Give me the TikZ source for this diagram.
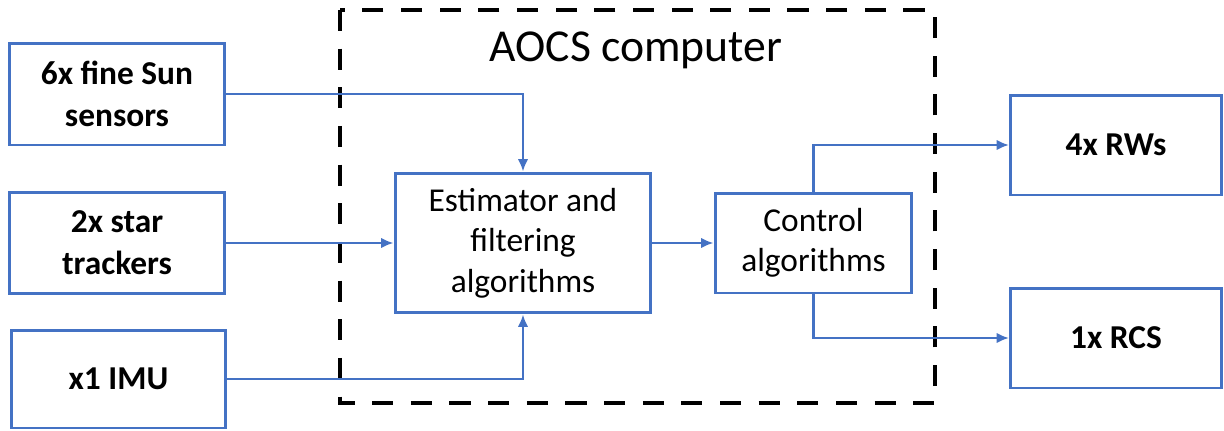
\documentclass[tikz,border=0pt]{standalone}
\usepackage{fontspec}
\setmainfont{Carlito}
\usetikzlibrary{arrows.meta}
\definecolor{lineblue}{HTML}{4472C4}
\begin{document}
\begin{tikzpicture}[x=.02cm, y=-.02cm,
  unit/.style={draw=lineblue, line width=1.7pt, align=center, inner sep=0pt,
    font=\fontsize{19}{24}\selectfont\bfseries},
  algo/.style={draw=lineblue, line width=1.7pt, align=center, inner sep=0pt,
    font=\fontsize{19}{23}\selectfont},
  link/.style={draw=lineblue, line width=1.4pt, -{Latex[length=7pt,width=6pt]}}]
\useasboundingbox (0,0) rectangle (1224,430);
\draw[line width=2.3pt, dash pattern=on 12pt off 10pt] (340,10) rectangle (935,403);
\node[font=\fontsize{26}{30}\selectfont] (title) at (636,50){AOCS computer};
\node[unit, minimum width=4.32cm, minimum height=2.04cm] (sun) at (117,94){6x fine Sun\\sensors};
\node[unit, minimum width=4.32cm, minimum height=2.02cm] (star) at (117,243){2x star\\trackers};
\node[unit, minimum width=4.3cm, minimum height=1.96cm] (imu) at (118.5,379){x1 IMU};
\node[algo, minimum width=5.12cm, minimum height=2.8cm] (est) at (523,243){Estimator and\\filtering\\algorithms};
\node[algo, minimum width=3.94cm, minimum height=2cm] (ctrl) at (813.5,243){Control\\algorithms};
\node[unit, minimum width=4.22cm, minimum height=2cm] (rw) at (1116,145){4x RWs};
\node[unit, minimum width=4.22cm, minimum height=2cm] (rcs) at (1116,338){1x RCS};
\draw[link] (sun.east) -| (est.north);
\draw[link] (star.east) -- (est.west);
\draw[link] (imu.east) -| (est.south);
\draw[link] (est.east) -- (ctrl.west);
\draw[link] (ctrl.north) |- (rw.west);
\draw[link] (ctrl.south) |- (rcs.west);
\end{tikzpicture}
\end{document}
